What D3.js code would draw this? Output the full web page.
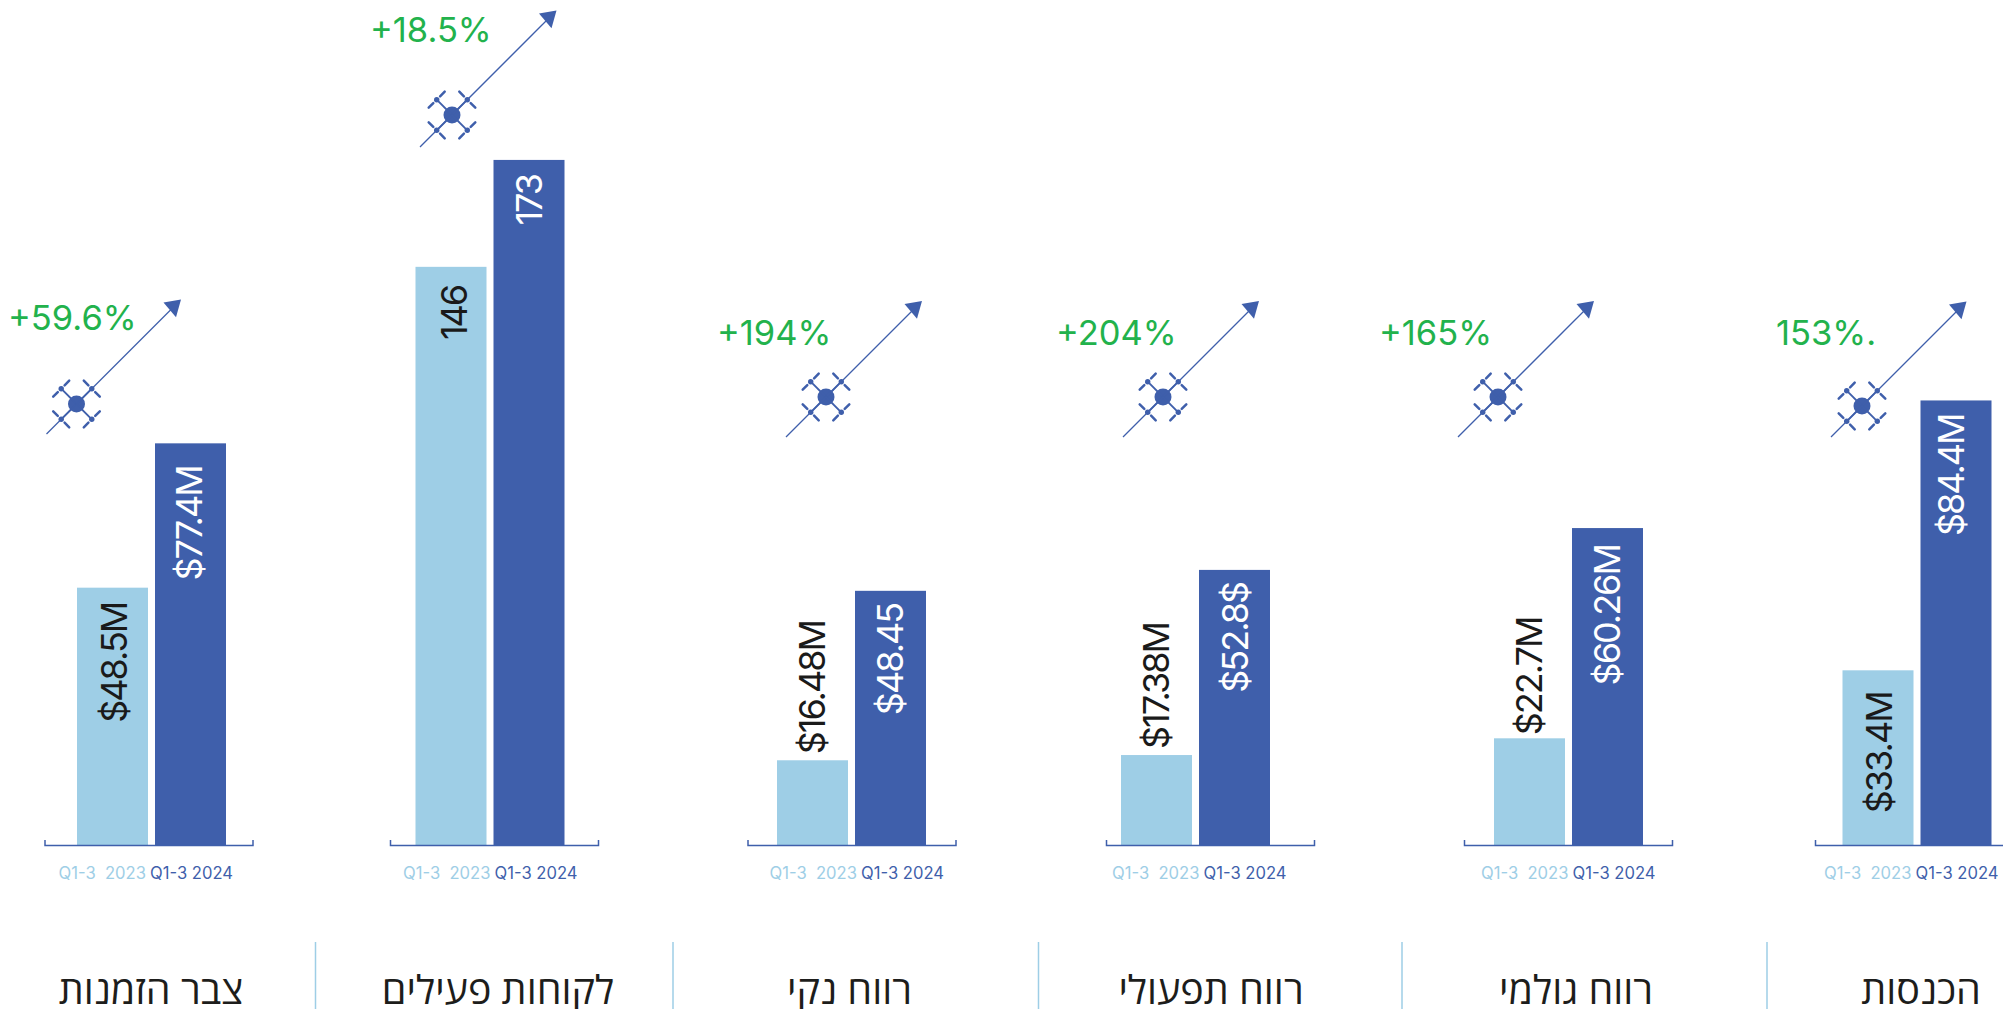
<!DOCTYPE html>
<html lang="he">
<head>
<meta charset="utf-8">
<style>
  html, body { margin: 0; padding: 0; background: #fff; overflow: hidden; }
  svg { display: block; }
  text { font-family: Inter, "Noto Sans", sans-serif; }
  .title { font-family: "Open Sans", "DejaVu Sans", sans-serif; }
</style>
</head>
<body>
<div id="chart"></div>
<script src="https://cdnjs.cloudflare.com/ajax/libs/d3/7.8.5/d3.min.js"></script>
<script>
// panels run left to right as in the picture
const categories = ["צבר הזמנות", "לקוחות פעילים", "רווח נקי", "רווח תפעולי", "רווח גולמי", "הכנסות"];
const periods = ["Q1-3  2023", "Q1-3 2024"];

// bar heights ($M, customers count in panel 2)
const values2023 = [49.2, 146, 16.2, 17.2, 20.4, 33.4];
const values2024 = [76.8, 173, 48.6, 52.6, 60.6, 85.0];

// printed labels, kept as they appear
const labels2023 = ["$48.5M", "146", "$16.48M", "$17.38M", "$22.7M", "$33.4M"];
const labels2024 = ["$77.4M", "173", "$48.45", "$52.8$", "$60.26M", "$84.4M"];
const changes = ["+59.6%", "+18.5%", "+194%", "+204%", "+165%", "153%."];

// layout
const barLeft = [77, 415.5, 777, 1121, 1494, 1842.5];
const bracketLeft = [44.5, 390, 747.5, 1106, 1464, 1815];
const tickLabelShift = [14, 13, 22, 6, 17, 9];
const labelPad2023 = [15, 19, 6, 6, 3, 22];
const labelPad2024 = [23, 15, 13, 13, 17, 14];
const labelNudge2023 = [2, 3, 0, 0, 0, 1];
const labelNudge2024 = [-1, 0, 0, 1, 0, -5];
const droneX = [76.5, 452, 826, 1163, 1498, 1862];
const droneY = [404, 115, 397, 397, 397, 406];
const arrowTail = [30, 32, 40, 40, 40, 31];
const arrowTip = [104.5, 104.5, 96, 96, 96, 104.5];
const changeX = [8, 370, 717, 1056, 1379, 1776];
const changeY = [330, 42, 345, 345, 345, 345];
const separators = [315.5, 673, 1038.5, 1402, 1767];
const titleX = [151, 498, 849.5, 1211, 1576, 1921];

const width = 2003, height = 1009;
const baseY = 845;
const light = "#9ecee6", dark = "#3f5fab", green = "#22b24c";

const svg = d3.select("#chart").append("svg")
  .attr("width", width)
  .attr("height", height);

// money panels share one scale, the customers panel has its own
const yMoney = d3.scaleLinear().domain([0, 100]).range([baseY, baseY - 523]);
const yCustomers = d3.scaleLinear().domain([0, 200]).range([baseY, baseY - 792]);
const yFor = i => i === 1 ? yCustomers : yMoney;

const xBar = d3.scaleBand().domain(periods).range([0, 149]).paddingInner(7 / 78);
const xAxis = d3.scaleBand().domain(periods).range([0, 208]);

categories.forEach(function(cat, i) {
  const y = yFor(i);
  const g = svg.append("g").attr("transform", `translate(${barLeft[i]},0)`);
  const rows = [
    {period: periods[0], value: values2023[i], label: labels2023[i], pad: labelPad2023[i], nudge: labelNudge2023[i], color: light, text: "#1a1a1a"},
    {period: periods[1], value: values2024[i], label: labels2024[i], pad: labelPad2024[i], nudge: labelNudge2024[i], color: dark, text: "#fff"}
  ];
  const isAbove = d => baseY - y(d.value) < 150;

  g.selectAll("rect")
    .data(rows)
    .join("rect")
      .attr("x", d => xBar(d.period))
      .attr("y", d => y(d.value))
      .attr("width", xBar.bandwidth())
      .attr("height", d => baseY - y(d.value))
      .attr("fill", d => d.color);

  // value labels, short light bars get theirs above the bar
  g.selectAll("text.value")
    .data(rows)
    .join("text")
      .attr("class", "value")
      .attr("transform", d => {
        const ty = isAbove(d) ? y(d.value) - d.pad : y(d.value) + d.pad;
        return `translate(${xBar(d.period) + xBar.bandwidth() / 2 + d.nudge},${ty}) rotate(-90)`;
      })
      .attr("text-anchor", d => isAbove(d) ? "start" : "end")
      .attr("dy", "0.36em")
      .attr("font-size", 36)
      .attr("font-weight", 400)
      .attr("letter-spacing", -2)
      .attr("fill", d => d.text)
      .text(d => d.label);

  // bracket axis under the bars
  const axis = svg.append("g")
    .attr("transform", `translate(${bracketLeft[i]},${baseY})`)
    .call(d3.axisBottom(xAxis).tickSize(0).tickSizeOuter(-5).tickPadding(0));
  axis.select(".domain").attr("stroke", dark).attr("stroke-width", 1.5);
  axis.selectAll(".tick text")
    .attr("text-anchor", "start")
    .attr("x", d => (d === periods[0] ? 0 : 91.5) + tickLabelShift[i] - xAxis(d) - xAxis.bandwidth() / 2)
    .attr("y", 22)
    .attr("font-family", "Inter")
    .attr("font-size", 16.6)
    .attr("fill", d => d === periods[0] ? light : dark)
    .style("white-space", "pre");

  // arrow and drone mark
  const drone = svg.append("g").attr("transform", `translate(${droneX[i]},${droneY[i]})`);
  const tip = arrowTip[i];
  drone.append("line")
    .attr("x1", -arrowTail[i]).attr("y1", arrowTail[i])
    .attr("x2", tip - 8).attr("y2", -tip + 8)
    .attr("stroke", dark).attr("stroke-width", 1.3);
  drone.append("path")
    .attr("transform", `translate(${tip},${-tip})`)
    .attr("d", "M0,0 L-17.5,3 L-5,17.7 Z")
    .attr("fill", dark);
  drone.append("circle").attr("r", 8.5).attr("fill", dark);
  [[-1, -1], [1, -1], [-1, 1], [1, 1]].forEach(function(s) {
    const px = s[0] * 15.3, py = s[1] * 15.3;
    drone.append("line")
      .attr("x2", px).attr("y2", py)
      .attr("stroke", dark).attr("stroke-width", 1.8);
    drone.append("circle").attr("cx", px).attr("cy", py).attr("r", 2.7).attr("fill", dark);
    // two little propeller blades on each rotor
    [[s[0], -s[1]], [-s[0], s[1]]].forEach(function(b) {
      drone.append("line")
        .attr("x1", px + b[0] * 3.4).attr("y1", py + b[1] * 3.4)
        .attr("x2", px + b[0] * 8).attr("y2", py + b[1] * 8)
        .attr("stroke", dark).attr("stroke-width", 2.5).attr("stroke-linecap", "round");
    });
  });

  svg.append("text")
    .attr("x", changeX[i])
    .attr("y", changeY[i])
    .attr("font-size", 34.5)
    .attr("font-weight", 400)
    .attr("fill", green)
    .text(changes[i]);

  svg.append("text")
    .attr("class", "title")
    .attr("x", titleX[i])
    .attr("y", 1004)
    .attr("text-anchor", "middle")
    .attr("font-size", 39.5)
    .attr("font-weight", 400)
    .attr("fill", "#1d1d1b")
    .text(cat);
});

svg.selectAll("line.sep")
  .data(separators)
  .join("line")
    .attr("class", "sep")
    .attr("x1", d => d).attr("x2", d => d)
    .attr("y1", 942).attr("y2", height)
    .attr("stroke", light).attr("stroke-width", 1.5);
</script>
</body>
</html>
